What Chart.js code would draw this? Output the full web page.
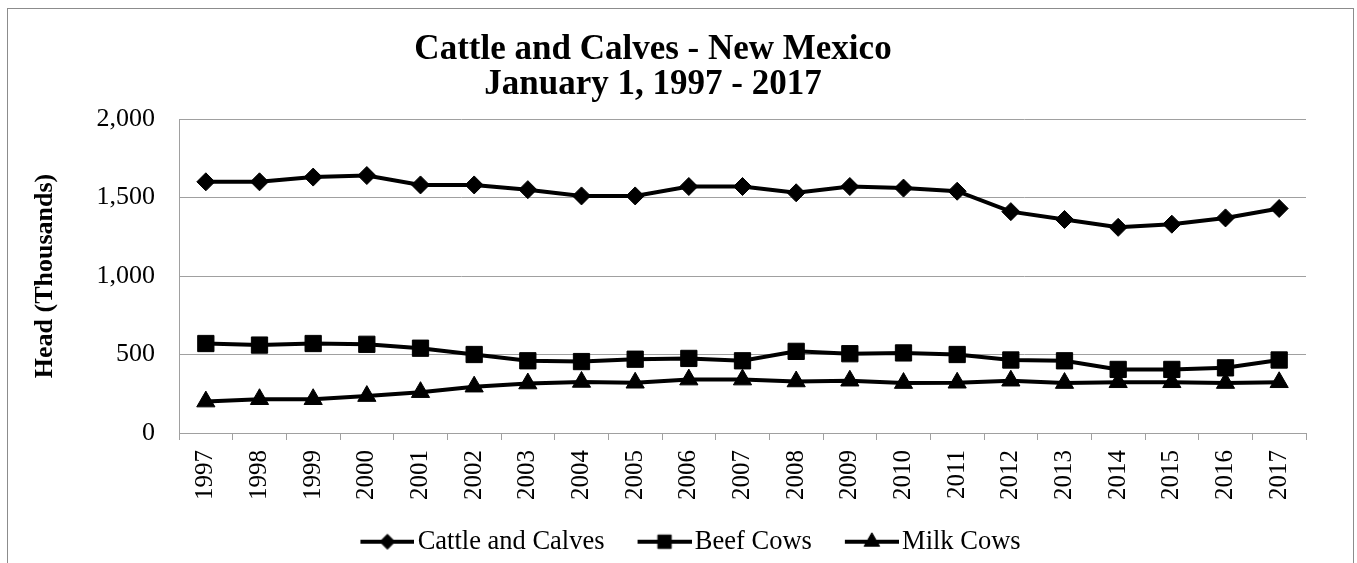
<!DOCTYPE html>
<html>
<head>
<meta charset="utf-8">
<script src="https://cdn.jsdelivr.net/npm/chart.js@4"></script>
<style>
  html, body { margin: 0; padding: 0; background: #fff; }
  #wrap { width: 1357px; height: 563px; }
</style>
</head>
<body>
<div id="wrap"><canvas id="cattleChart" width="1357" height="563"></canvas></div>
<script>
// ── Data (thousand head, Jan 1) ──
const years = ['1997', '1998', '1999', '2000', '2001', '2002', '2003', '2004', '2005', '2006', '2007',
               '2008', '2009', '2010', '2011', '2012', '2013', '2014', '2015', '2016', '2017'];
const cattleAndCalves = [1600, 1600, 1630, 1640, 1580, 1580, 1550, 1510, 1510, 1570, 1570,
                         1530, 1570, 1560, 1540, 1410, 1360, 1310, 1330, 1370, 1430];
const beefCows = [570, 560, 570, 565, 540, 500, 460, 455, 470, 475, 460,
                  520, 505, 510, 500, 465, 460, 405, 405, 415, 465];
const milkCows = [200, 215, 215, 235, 260, 295, 315, 325, 320, 340, 340,
                  328, 333, 318, 320, 333, 318, 323, 323, 318, 323];
const yTicks = [0, 500, 1000, 1500, 2000];

const FONT = "'Liberation Serif', 'Times New Roman', serif";
const GRID = '#a0a0a0';
const PLOT_BOTTOM = 433;

// legend icon: line + marker sitting in the right part of a wider canvas
function legendIcon(style, radius) {
    const c = document.createElement('canvas');
    c.width = 73; c.height = 26;
    const ctx = c.getContext('2d');
    ctx.strokeStyle = '#000';
    ctx.lineWidth = 4;
    ctx.beginPath();
    ctx.moveTo(19, 13);
    ctx.lineTo(73, 13);
    ctx.stroke();
    ctx.fillStyle = '#000';
    ctx.lineWidth = 1;
    Chart.helpers.drawPoint(ctx, { pointStyle: style, radius: radius, borderWidth: 1 }, 46, 13);
    return c;
}

// outer chart border + nudge legend to the right like the original
const frame = {
    id: 'frame',
    beforeDraw(chart) {
        const ctx = chart.ctx;
        ctx.save();
        ctx.fillStyle = '#fff';
        ctx.fillRect(0, 0, chart.width, chart.height);
        ctx.strokeStyle = '#8c8c8c';
        ctx.lineWidth = 1;
        ctx.strokeRect(7.5, 8.5, 1346, 600);
        ctx.restore();
    },
    afterLayout(chart) {
        chart.legend.left += 33;
        chart.legend.right += 33;
    }
};

function series(label, data, style, radius) {
    return {
        label: label,
        data: data,
        borderColor: '#000',
        backgroundColor: '#000',
        borderWidth: 4,
        tension: 0,
        pointStyle: style,
        pointRadius: radius,
        pointBackgroundColor: '#000',
        pointBorderColor: '#000',
        pointBorderWidth: 1
    };
}

const icons = [legendIcon('rectRot', 7.5), legendIcon('rect', 9.5), legendIcon('triangle', 9)];

new Chart(document.getElementById('cattleChart'), {
    type: 'line',
    data: {
        labels: years,
        datasets: [
            series('Cattle and Calves', cattleAndCalves, 'rectRot', 9),
            series('Beef Cows', beefCows, 'rect', 11.5),
            series('Milk Cows', milkCows, 'triangle', 10.5)
        ]
    },
    options: {
        responsive: false,
        animation: false,
        layout: { padding: { left: 0, right: 51, top: 0, bottom: -2 } },
        plugins: {
            title: {
                display: true,
                text: ['Cattle and Calves - New Mexico', 'January 1, 1997 - 2017'],
                color: '#000',
                font: { family: FONT, size: 35, weight: 'bold', lineHeight: 1.0 },
                padding: { top: 32, bottom: 17 }
            },
            legend: {
                position: 'bottom',
                labels: {
                    color: '#000',
                    font: { family: FONT, size: 26.5 },
                    usePointStyle: true,
                    pointStyleWidth: 53,
                    boxHeight: 26,
                    padding: 24,
                    generateLabels: chart => chart.data.datasets.map((ds, i) => ({
                        text: ds.label,
                        pointStyle: icons[i],
                        fillStyle: '#000',
                        strokeStyle: '#000',
                        lineWidth: 0,
                        datasetIndex: i
                    }))
                }
            },
            tooltip: { enabled: false }
        },
        scales: {
            x: {
                offset: true,
                grid: { drawOnChartArea: false, offset: true, color: GRID, tickLength: 7 },
                border: { color: GRID },
                ticks: {
                    color: '#000',
                    font: { family: FONT, size: 25 },
                    minRotation: 90,
                    maxRotation: 90,
                    autoSkip: false,
                    padding: 10
                },
                afterFit: s => { s.height = s.chart.height + 2 - s.chart.legend.height - PLOT_BOTTOM; }
            },
            y: {
                min: 0,
                max: 2000,
                afterBuildTicks: s => { s.ticks = yTicks.map(v => ({ value: v })); },
                grid: { color: GRID, drawTicks: false },
                border: { color: GRID },
                ticks: {
                    color: '#000',
                    font: { family: FONT, size: 26 },
                    padding: 24,
                    callback: v => v.toLocaleString('en-US')
                },
                title: {
                    display: true,
                    text: 'Head (Thousands)',
                    color: '#000',
                    font: { family: FONT, size: 26, weight: 'bold' },
                    padding: { top: 30, bottom: 0 }
                },
                afterFit: s => { s.width = 179; }
            }
        }
    },
    plugins: [frame]
});
</script>
</body>
</html>
